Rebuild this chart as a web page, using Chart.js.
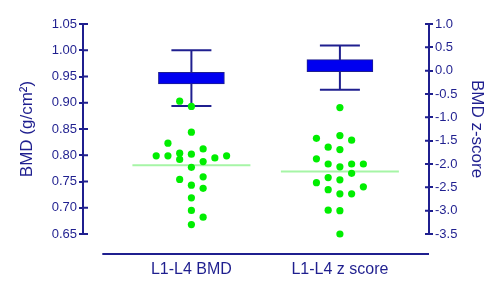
<!DOCTYPE html>
<html>
<head>
<meta charset="utf-8">
<script src="https://cdn.jsdelivr.net/npm/chart.js@4.4.1/dist/chart.umd.min.js"></script>
<style>
html, body { margin: 0; padding: 0; background: #fff; }
</style>
</head>
<body>
<canvas id="chart" width="500" height="292"></canvas>
<script>
const categories = ['L1-L4 BMD', 'L1-L4 z score'];

// individual patients, value + column in the dot plot
const bmdValues = [0.903, 0.893, 0.844, 0.823, 0.812, 0.799, 0.799, 0.804, 0.802, 0.792, 0.788,
                   0.795, 0.799, 0.777, 0.754, 0.759, 0.743, 0.737, 0.719, 0.695, 0.682, 0.668];
const bmdColumns = [-1, 0, 0, -2, 1, -3, -2, -1, 0, -1, 1, 2, 3, 0, -1, 1, 0, 1, 0, 0, 1, 0];

const zValues = [-0.79, -1.45, -1.39, -1.49, -1.64, -1.69, -1.89, -2.00, -2.06, -2.00, -2.00,
                 -2.20, -2.29, -2.34, -2.40, -2.49, -2.55, -2.64, -2.64, -2.99, -3.00, -3.50];
const zColumns = [0, -2, 0, 1, -1, 0, -2, -1, 0, 1, 2, 1, -1, 0, -2, 2, -1, 0, 1, -1, 0, 0];

const bmdMean = 0.781;
const zMean = -2.16;

// reference boxes: whisker low, box low, box high, whisker high
const bmdBox = [0.894, 0.936, 0.958, 1.00];
const zBox = [-0.41, -0.02, 0.235, 0.54];

const bmdTicks = [0.65, 0.70, 0.75, 0.80, 0.85, 0.90, 0.95, 1.00, 1.05];
const zTicks = [-3.5, -3.0, -2.5, -2.0, -1.5, -1.0, -0.5, 0.0, 0.5, 1.0];

const navy = '#1f1f8f';
const green = '#00ee00';
const dotStep = 0.079;

Chart.defaults.font.family = "'Liberation Sans', Arial, sans-serif";

function dots(values, cols, center) {
    return values.map(function(v, i) {
        return { x: center + cols[i] * dotStep, y: v };
    });
}

function boxSets(box, center, axis) {
    return [
        {
            type: 'bar', data: [{ x: center, y: [box[1], box[2]] }], yAxisID: axis,
            backgroundColor: '#0000f0', borderColor: navy, borderWidth: 1, borderSkipped: false,
            barThickness: 66, grouped: false, order: 1, clip: false
        },
        {
            type: 'scatter', data: [{ x: center, y: box[0] }, { x: center, y: box[3] }], yAxisID: axis,
            pointStyle: 'line', pointRadius: 20, borderColor: navy, borderWidth: 2, order: 2, clip: false
        },
        {
            type: 'line', data: [{ x: center, y: box[0] }, { x: center, y: box[3] }], yAxisID: axis,
            borderColor: navy, borderWidth: 2, pointRadius: 0, order: 3, clip: false
        }
    ];
}

function meanSet(mean, center, axis) {
    return {
        type: 'scatter', data: [{ x: center, y: mean }], yAxisID: axis,
        pointStyle: 'line', pointRadius: 59, borderColor: '#a6f5a6', borderWidth: 2, order: 4, clip: false
    };
}

function noPadding(s) {
    s.paddingLeft = 0;
    s.paddingRight = 0;
    s.paddingTop = 0;
    s.paddingBottom = 0;
}

// inner half of the tick marks and the detached x baseline
const axisExtras = {
    id: 'axisExtras',
    afterDraw(chart) {
        const ctx = chart.ctx;
        const area = chart.chartArea;
        const x = chart.scales.x;
        ctx.save();
        ctx.strokeStyle = navy;
        ctx.lineWidth = 2;
        ctx.beginPath();
        chart.scales.yL.ticks.forEach(function(t) {
            const y = chart.scales.yL.getPixelForValue(t.value);
            ctx.moveTo(area.left, y);
            ctx.lineTo(area.left + 5, y);
        });
        chart.scales.yR.ticks.forEach(function(t) {
            const y = chart.scales.yR.getPixelForValue(t.value);
            ctx.moveTo(area.right, y);
            ctx.lineTo(area.right - 4, y);
        });
        const by = area.bottom + 20;
        ctx.moveTo(x.getPixelForValue(-0.6), by);
        ctx.lineTo(x.getPixelForValue(1.6), by);
        ctx.stroke();
        ctx.restore();
    }
};

new Chart(document.getElementById('chart'), {
    type: 'scatter',
    data: {
        datasets: [
            { data: dots(bmdValues, bmdColumns, 0), yAxisID: 'yL', pointRadius: 3.6, pointBorderWidth: 0, backgroundColor: green, order: 0, clip: false },
            { data: dots(zValues, zColumns, 1), yAxisID: 'yR', pointRadius: 3.6, pointBorderWidth: 0, backgroundColor: green, order: 0, clip: false },
            ...boxSets(bmdBox, 0, 'yL'),
            ...boxSets(zBox, 1, 'yR'),
            meanSet(bmdMean, 0, 'yL'),
            meanSet(zMean, 1, 'yR')
        ]
    },
    options: {
        responsive: false,
        animation: false,
        layout: { autoPadding: false, padding: { top: 24, left: 0, right: 0, bottom: 0 } },
        plugins: {
            legend: { display: false },
            tooltip: { enabled: false }
        },
        scales: {
            x: {
                type: 'linear',
                min: -0.73,
                max: 1.6,
                offset: false,
                border: { display: false },
                grid: { display: false, drawTicks: false, offset: false },
                afterBuildTicks: function(s) {
                    s.ticks = categories.map(function(c, i) { return { value: i }; });
                },
                afterFit: function(s) { s.height = 58; noPadding(s); },
                ticks: {
                    color: navy,
                    font: { size: 16 },
                    padding: 26,
                    maxRotation: 0,
                    autoSkip: false,
                    callback: function(v) { return categories[v]; }
                }
            },
            yL: {
                type: 'linear',
                position: 'left',
                min: bmdTicks[0],
                max: bmdTicks[bmdTicks.length - 1],
                afterBuildTicks: function(s) {
                    s.ticks = bmdTicks.map(function(v) { return { value: v }; });
                },
                afterFit: function(s) { s.width = 83; noPadding(s); },
                border: { color: navy, width: 2 },
                grid: { drawOnChartArea: false, color: navy, lineWidth: 2, tickLength: 4 },
                ticks: {
                    color: navy,
                    font: { size: 13 },
                    padding: 2,
                    callback: function(v) { return v.toFixed(2); }
                },
                title: {
                    display: true,
                    text: 'BMD (g/cm²)',
                    color: navy,
                    font: { size: 17 },
                    padding: { top: 17, bottom: 0 }
                }
            },
            yR: {
                type: 'linear',
                position: 'right',
                min: zTicks[0],
                max: zTicks[zTicks.length - 1],
                afterBuildTicks: function(s) {
                    s.ticks = zTicks.map(function(v) { return { value: v }; });
                },
                afterFit: function(s) { s.width = 71; noPadding(s); },
                border: { color: navy, width: 2 },
                grid: { drawOnChartArea: false, color: navy, lineWidth: 2, tickLength: 4 },
                ticks: {
                    color: navy,
                    font: { size: 13 },
                    padding: 2,
                    callback: function(v) { return v.toFixed(1); }
                },
                title: {
                    display: true,
                    text: 'BMD z-score',
                    color: navy,
                    font: { size: 17 },
                    padding: { top: 13, bottom: 0 }
                }
            }
        }
    },
    plugins: [axisExtras]
});
</script>
</body>
</html>
